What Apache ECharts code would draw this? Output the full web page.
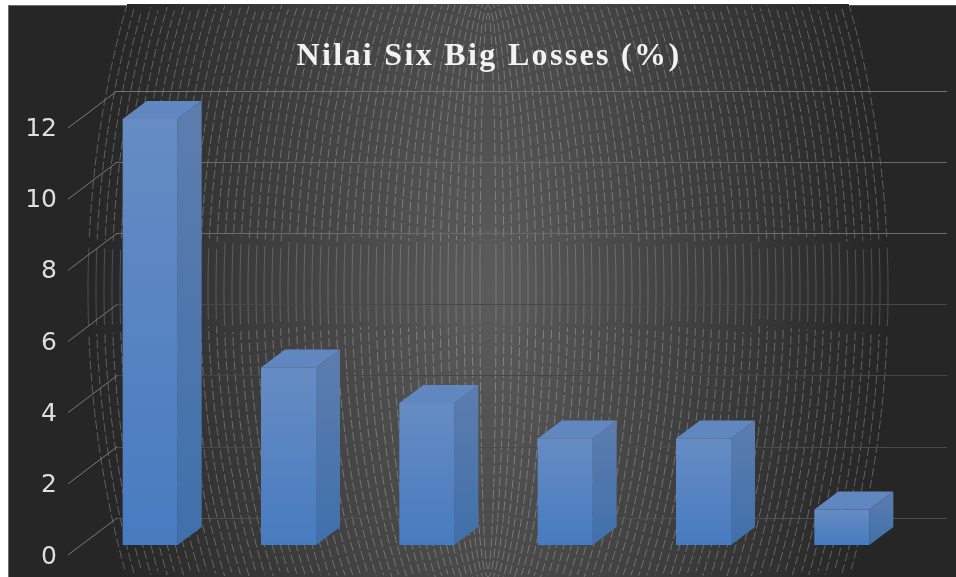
<!DOCTYPE html>
<html>
<head>
<meta charset="utf-8">
<style>html,body{margin:0;padding:0;background:#fff}#chart{width:956px;height:577px}</style>
<script src="https://cdn.jsdelivr.net/npm/echarts@6/dist/echarts.min.js"></script>
</head>
<body>
<div id="chart"></div>
<script>
const titleText = 'Nilai Six Big Losses (%)';
const categories = ['1', '2', '3', '4', '5', '6'];
const lossValues = [12, 5, 4, 3, 3, 1];
const tickValues = [0, 2, 4, 6, 8, 10, 12];
const wallLineShades = ['#505050', '#4a4a4a', '#454545', '#484848', '#6b6b6b', '#6b6b6b', '#737373'];

// Canvas text tracking for the title only; the library has no letter-spacing option.
const baseFillText = CanvasRenderingContext2D.prototype.fillText;
CanvasRenderingContext2D.prototype.fillText = function (text, x, y, w) {
  const previous = this.letterSpacing;
  if (text === titleText) this.letterSpacing = '2.33px';
  if (w === undefined) baseFillText.call(this, text, x, y);
  else baseFillText.call(this, text, x, y, w);
  this.letterSpacing = previous;
};

// Decorative backdrop: soft elliptical glow plus concentric dashed ovals.
const CX = 488, CY = 291, TOP = 4, BOTTOM = 577;
const SOLID_FROM = 242, SOLID_TO = 326;

function glowLayers() {
  const out = [];
  for (let r = 400; r >= 4; r -= 4) {
    const f = r / 400;
    const v = Math.round(92 - 54 * f);
    const pts = [];
    for (let a = 0; a < 96; a++) {
      const t = a / 96 * Math.PI * 2;
      pts.push([CX + r * Math.cos(t), Math.max(TOP, Math.min(BOTTOM, CY + 2 * r * Math.sin(t)))]);
    }
    out.push({ type: 'polygon', silent: true, shape: { points: pts }, style: { fill: `rgb(${v},${v},${v})` } });
  }
  return out;
}

// Each oval side is cut into upper dashed, middle unbroken and lower dashed runs.
function ovalLines() {
  const out = [];
  const run = (pts, dashOffset) => {
    if (pts.length < 2) return;
    out.push({
      type: 'polyline', silent: true, shape: { points: pts },
      style: dashOffset === null
        ? { fill: null, stroke: 'rgba(255,255,255,0.19)', lineWidth: 1 }
        : { fill: null, stroke: 'rgba(255,255,255,0.26)', lineWidth: 1, lineDash: [9, 3], lineDashOffset: dashOffset }
    });
  };
  for (let k = 1; k <= 50; k++) {
    const rx = 8 * k, ry = 270 + 7.9 * k;
    [1, -1].forEach(side => {
      const upper = [], middle = [], lower = [];
      for (let i = 0; i <= 240; i++) {
        const t = -Math.PI / 2 + Math.PI * i / 240;
        const y = CY + ry * Math.sin(t);
        if (y < TOP || y > BOTTOM) continue;
        const p = [CX + side * rx * Math.cos(t), y];
        if (y < SOLID_FROM) upper.push(p);
        else if (y <= SOLID_TO) middle.push(p);
        else lower.push(p);
      }
      // lower run is stroked from the bottom so its dashes mirror the upper run
      run(upper, k * 1.7);
      run(middle, null);
      run(lower.reverse(), k * 1.7);
    });
  }
  return out;
}

function pageEdges() {
  const rect = (x, y, width, height, fill) => ({ type: 'rect', silent: true, shape: { x, y, width, height }, style: { fill } });
  return [
    rect(0, 0, 956, 4, '#ffffff'),
    rect(0, 0, 127, 5, '#ffffff'),
    rect(849, 0, 107, 5, '#ffffff'),
    rect(0, 0, 8, 577, '#ffffff'),
    rect(8, 5, 1, 572, '#6e6e6e'),
    rect(8, 5, 119, 1, '#6e6e6e'),
    rect(849, 5, 107, 1, '#555555')
  ];
}

// Three visible faces of a column: front, right side, top.
function renderColumn(params, api) {
  const idx = api.value(0);
  const val = api.value(1);
  const top = api.coord([idx, val]);
  const base = api.coord([idx, 0]);
  const halfW = 27.5, dx = 24, dy = 18;
  const l = top[0] - halfW, r = top[0] + halfW;
  const vert = (a, b) => new echarts.graphic.LinearGradient(0, 0, 0, 1, [{ offset: 0, color: a }, { offset: 1, color: b }]);
  const face = (points, fill) => ({ type: 'polygon', shape: { points }, style: { fill } });
  return {
    type: 'group',
    children: [
      face([[l, top[1]], [r, top[1]], [r + dx, top[1] - dy], [l + dx, top[1] - dy]], '#6087c0'),
      face([[r, top[1]], [r + dx, top[1] - dy], [r + dx, base[1] - dy], [r, base[1]]], vert('#5d7dae', '#3f70ab')),
      face([[l, top[1]], [r, top[1]], [r, base[1]], [l, base[1]]], vert('#668cc3', '#477bc0'))
    ]
  };
}

// Slanted leader from each wall gridline toward its tick label.
function renderLeader(params, api) {
  const y = api.coord([0, api.value(0)])[1];
  const x = params.coordSys.x;
  return {
    type: 'line',
    shape: { x1: x + 1, y1: y, x2: x - 48, y2: y + 37 },
    style: { stroke: '#7a7a7a', lineWidth: 1 }
  };
}

const chart = echarts.init(document.getElementById('chart'), null, { renderer: 'canvas' });
chart.setOption({
  animation: false,
  backgroundColor: '#262626',
  title: {
    text: titleText, left: 484, top: 36, textAlign: 'center', z: 6,
    textStyle: { fontFamily: 'Liberation Serif', fontWeight: 'bold', fontSize: 32, color: '#f2f2f2' }
  },
  graphic: { elements: [...glowLayers(), ...ovalLines(), ...pageEdges()] },
  grid: [
    { left: 116, width: 831, top: 91, height: 427 },
    { left: 81, width: 830, top: 119, height: 426 },
    { left: 60, width: 10, top: 129, height: 428 }
  ],
  xAxis: [0, 1, 2].map(i => ({
    gridIndex: i, type: 'category', data: categories, show: false
  })),
  yAxis: [
    {
      gridIndex: 0, type: 'value', min: 0, max: 12, interval: 2, z: 3,
      axisLine: { show: false }, axisTick: { show: false }, axisLabel: { show: false },
      splitLine: { show: true, lineStyle: { color: wallLineShades, width: 1 } }
    },
    {
      gridIndex: 1, type: 'value', min: 0, max: 12, interval: 2, show: false, splitLine: { show: false }
    },
    {
      gridIndex: 2, type: 'value', min: 0, max: 12, interval: 2, position: 'left', z: 3,
      axisLine: { show: false }, axisTick: { show: false }, splitLine: { show: false },
      axisLabel: { margin: 3, fontFamily: 'DejaVu Sans', fontSize: 25, color: '#dedede' }
    }
  ],
  series: [
    {
      type: 'custom', xAxisIndex: 0, yAxisIndex: 0, z: 4, silent: true, clip: false,
      renderItem: renderLeader,
      encode: { y: 0 },
      data: tickValues.map(v => [v])
    },
    {
      type: 'custom', xAxisIndex: 1, yAxisIndex: 1, z: 5, silent: true, clip: false,
      renderItem: renderColumn,
      encode: { x: 0, y: 1 },
      data: lossValues.map((v, i) => [i, v])
    }
  ]
});
</script>
</body>
</html>
